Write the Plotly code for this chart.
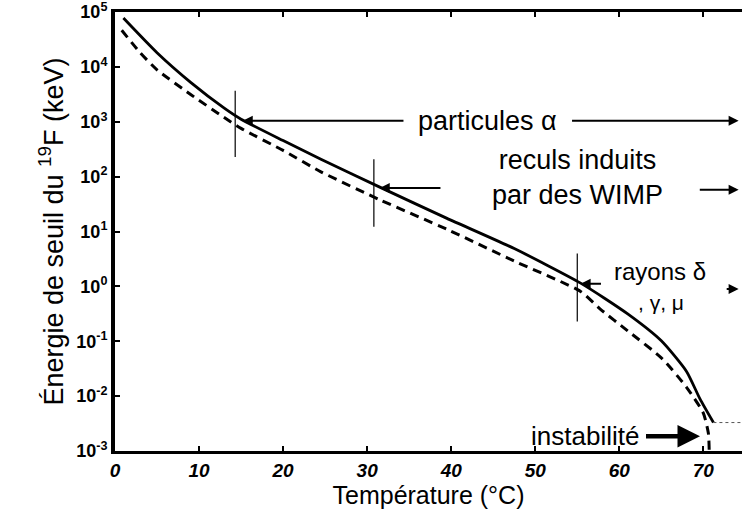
import plotly.graph_objects as go
import math

# ---- data ----
solid_T = [1.0, 5.0, 9.0, 13.0, 15.0, 20.0, 24.5, 31.5, 39.5, 47.5, 55.4, 61.0, 65.0, 68.0, 69.6, 71.2]
solid_E = [7.8e4, 1.82e4, 5.25e3, 1.78e3, 1.12e3, 457, 209, 64.6, 17.4, 4.9, 1.15, 0.316, 0.102, 0.0282, 0.0089, 0.0033]

dash_T = [0.8, 3.0, 5.0, 9.0, 13.0, 15.0, 20.0, 24.5, 31.5, 39.5, 47.5, 55.4, 57.7, 61.0, 65.0, 68.0, 70.0, 70.6, 70.7]
dash_E = [4.68e4, 1.82e4, 8.9e3, 3.16e3, 1.2e3, 760, 302, 123, 38, 11, 2.9, 0.81, 0.39, 0.155, 0.050, 0.0145, 0.0049, 0.0021, 0.001]

tail_T = [71.2, 74.6]
tail_E = [0.0033, 0.0033]

bar_T = [14.3, 30.8, 55.0]
bar_top = [3.7e3, 209, 4.0]
bar_bot = [229, 12.3, 0.23]

x_ticks = [0, 10, 20, 30, 40, 50, 60, 70]
y_exps = [-3, -2, -1, 0, 1, 2, 3, 4, 5]
y_ticks = [10.0 ** e for e in y_exps]
y_labels = ["10<sup>%d</sup>" % e for e in y_exps]

FONT = "Liberation Sans, Arial, sans-serif"

fig = go.Figure()

fig.add_trace(go.Scatter(x=solid_T, y=solid_E, mode="lines",
                         line=dict(color="black", width=2.8, shape="spline", smoothing=0.6),
                         showlegend=False))
fig.add_trace(go.Scatter(x=dash_T, y=dash_E, mode="lines",
                         line=dict(color="black", width=3, dash="9px,6px", shape="spline", smoothing=0.6),
                         showlegend=False))
fig.add_trace(go.Scatter(x=tail_T, y=tail_E, mode="lines",
                         line=dict(color="#555555", width=1, dash="dot"),
                         showlegend=False))

bx, by = [], []
for t, lo, hi in zip(bar_T, bar_bot, bar_top):
    bx += [t, t, None]
    by += [lo, hi, None]
fig.add_trace(go.Scatter(x=bx, y=by, mode="lines",
                         line=dict(color="black", width=1.2), showlegend=False))

L = math.log10

ann = []
def arrow(x0, x1, e, width=2, head=2, size=1.0):
    ann.append(dict(x=x1, y=L(e), ax=x0, ay=L(e), axref="x", ayref="y",
                    xref="x", yref="y", text="", showarrow=True,
                    arrowhead=head, arrowsize=size, arrowwidth=width,
                    arrowcolor="black", standoff=0, startstandoff=0))

def label(x, e, txt, anchor="center", size=27):
    ann.append(dict(x=x, y=L(e), xref="x", yref="y", text=txt, showarrow=False,
                    xanchor=anchor, yanchor="middle",
                    font=dict(family=FONT, size=size, color="black")))

# particules alpha
arrow(34.5, 15.2, 1.05e3)
label(44.3, 1.05e3, "particules α")
arrow(54.2, 74.2, 1.05e3)
# WIMP
arrow(38.9, 31.5, 62)
label(55.0, 98, "reculs induits<br>par des WIMP")
arrow(69.4, 74.2, 58)
# rayons
arrow(58.0, 55.4, 1.12)
label(64.8, 1.9, "rayons δ", size=24)
label(65.0, 0.5, ", γ, μ", size=21)
arrow(72.6, 74.2, 0.9)
# instabilite
label(62.6, 0.00186, "instabilité", anchor="right", size=26)
arrow(63.0, 69.6, 0.00186, width=4.5, head=2, size=1.0)

fig.update_layout(
    width=742, height=525,
    margin=dict(l=115, r=0, t=10, b=74),
    paper_bgcolor="white", plot_bgcolor="white",
    font=dict(family=FONT, color="black"),
    annotations=ann,
    xaxis=dict(range=[0, 74.6], tickvals=x_ticks, ticktext=[str(v) for v in x_ticks],
               ticks="inside", ticklen=5, tickwidth=2, tickcolor="black",
               showline=True, linewidth=3, linecolor="black", mirror="ticks",
               showgrid=False, zeroline=False,
               tickfont=dict(family=FONT, size=19, weight="bold", style="italic"),
               title=dict(text="Température (°C)", font=dict(family=FONT, size=25), standoff=6)),
    yaxis=dict(type="log", range=[-3.0, 5.003], tickvals=y_ticks, ticktext=y_labels,
               ticks="inside", ticklen=5, tickwidth=2, tickcolor="black",
               showline=True, linewidth=4, linecolor="black", mirror=False,
               showgrid=False, zeroline=False, ticklabeloverflow="allow",
               tickfont=dict(family=FONT, size=18, weight="bold"),
               title=dict(text="Énergie de seuil du <sup>19</sup>F (keV)",
                          font=dict(family=FONT, size=27), standoff=6)),
)

fig.write_html("out.html")
